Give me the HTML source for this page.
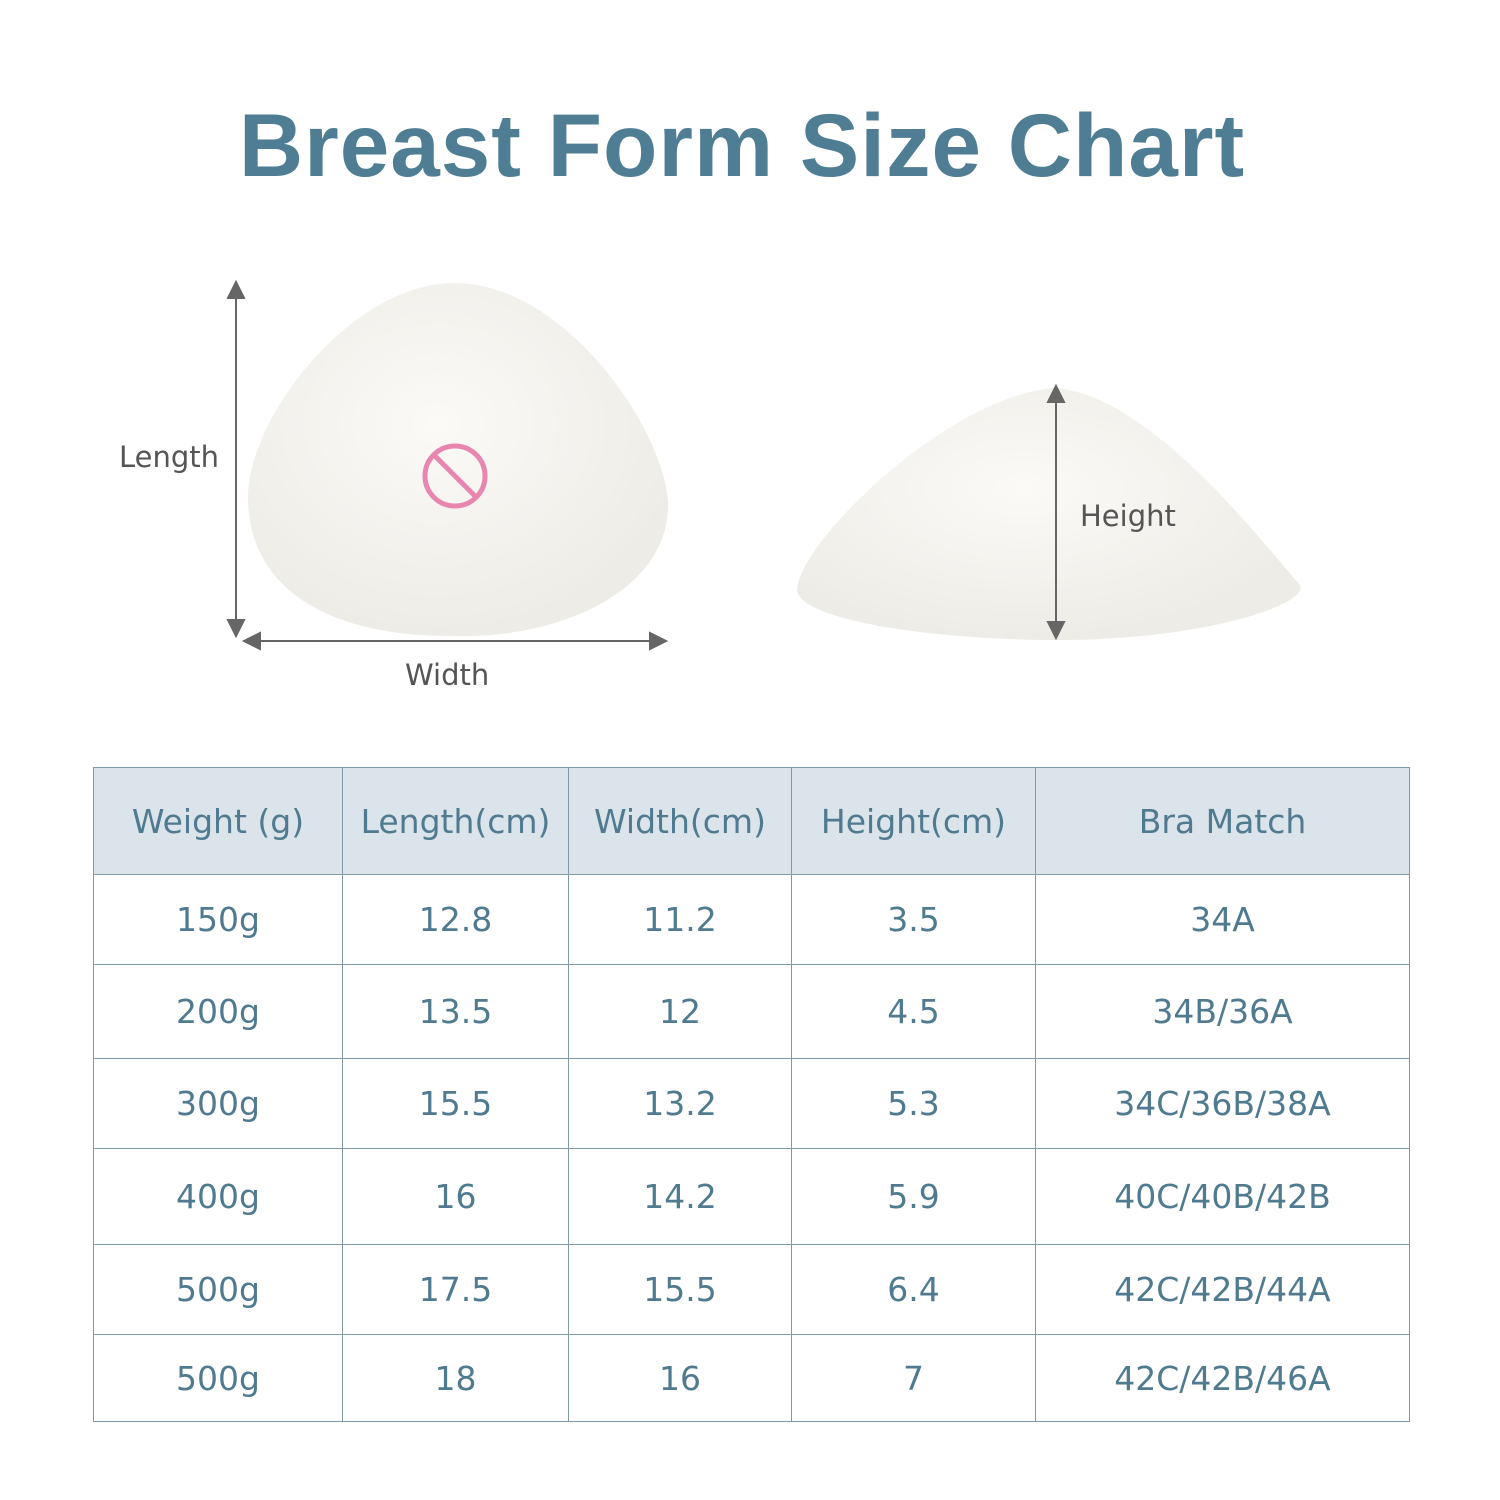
<!DOCTYPE html>
<html><head><style>
body{margin:0;background:#fff;}
.wrap{position:relative;width:1500px;height:1500px;overflow:hidden;background:#fff;font-family:"Liberation Sans","DejaVu Sans",sans-serif;}
.title{position:absolute;left:0;width:1484px;top:94px;text-align:center;font-size:89px;font-weight:bold;color:#4f7d94;letter-spacing:1px;}
.lbl{position:absolute;font-size:29px;color:#555;font-family:"DejaVu Sans","Liberation Sans",sans-serif;}
table{position:absolute;left:93px;top:767px;border-collapse:collapse;color:#4f7a8f;font-family:"DejaVu Sans","Liberation Sans",sans-serif;font-size:33px;}
td{border:1.5px solid #7f9aa8;text-align:center;padding:0;}
tr.h td{background:#dae4ea;}
</style></head><body><div class="wrap">
<div class="title">Breast Form Size Chart</div>
<svg width="1500" height="1500" style="position:absolute;left:0;top:0">
<defs><radialGradient id="g" cx="45%" cy="40%" r="60%"><stop offset="0" stop-color="#fbfaf7"/><stop offset="1" stop-color="#eeece6"/></radialGradient></defs>
<path d="M455 283 C560 283 660 420 668 500 C672 590 560 640 450 636 C330 636 250 590 248 500 C246 420 350 283 455 283Z" fill="url(#g)"/>
<circle cx="455" cy="476" r="30" fill="none" stroke="#e886b0" stroke-width="5"/>
<line x1="434" y1="455" x2="476" y2="497" stroke="#e886b0" stroke-width="5"/>
<path d="M1055 388 C1150 395 1260 540 1300 585 C1310 605 1200 640 1060 640 C930 640 800 620 797 590 C800 540 950 395 1055 388Z" fill="url(#g)"/>
<g stroke="#666" stroke-width="2" fill="#666">
<line x1="236" y1="290" x2="236" y2="628"/><polygon points="236,282 228,298 244,298"/><polygon points="236,636 228,620 244,620"/>
<line x1="252" y1="641" x2="658" y2="641"/><polygon points="244,641 260,633 260,649"/><polygon points="666,641 650,633 650,649"/>
<line x1="1056" y1="394" x2="1056" y2="630"/><polygon points="1056,386 1048,402 1064,402"/><polygon points="1056,638 1048,622 1064,622"/>
</g></svg>
<div class="lbl" style="left:119px;top:440px">Length</div>
<div class="lbl" style="left:405px;top:658px">Width</div>
<div class="lbl" style="left:1080px;top:499px">Height</div>
<table>
<tr class="h" style="height:107px"><td style="width:248px">Weight (g)</td><td style="width:225px">Length(cm)</td><td style="width:222px">Width(cm)</td><td style="width:243px">Height(cm)</td><td style="width:373px">Bra Match</td></tr>
<tr style="height:90px"><td>150g</td><td>12.8</td><td>11.2</td><td>3.5</td><td>34A</td></tr>
<tr style="height:94px"><td>200g</td><td>13.5</td><td>12</td><td>4.5</td><td>34B/36A</td></tr>
<tr style="height:90px"><td>300g</td><td>15.5</td><td>13.2</td><td>5.3</td><td>34C/36B/38A</td></tr>
<tr style="height:96px"><td>400g</td><td>16</td><td>14.2</td><td>5.9</td><td>40C/40B/42B</td></tr>
<tr style="height:90px"><td>500g</td><td>17.5</td><td>15.5</td><td>6.4</td><td>42C/42B/44A</td></tr>
<tr style="height:87px"><td>500g</td><td>18</td><td>16</td><td>7</td><td>42C/42B/46A</td></tr>
</table>
</div></body></html>
